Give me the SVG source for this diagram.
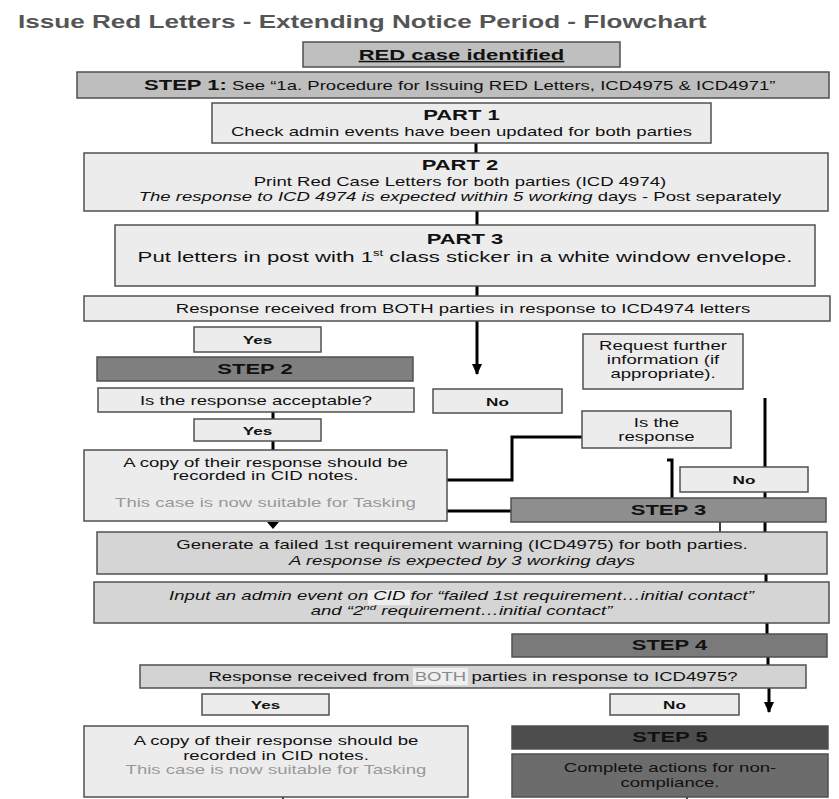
<svg xmlns="http://www.w3.org/2000/svg" width="839" height="799" viewBox="0 0 839 799">
<defs>
<style>
.bx{stroke:#505050;stroke-width:1.5}
.t{font-family:"Liberation Sans",Arial,sans-serif;text-anchor:middle;fill:#111}
.b{font-size:12.8px}
.h{font-size:15.2px;font-weight:bold}
.yn{font-size:11.8px;font-weight:bold}
.it{font-style:italic}
.c{stroke:#000;stroke-width:3;fill:none}
.thin{stroke:#000;stroke-width:1.5;fill:none}
.l1{fill:#ececec}
.l2{fill:#d5d5d5}
</style>
<marker id="ah" markerUnits="userSpaceOnUse" markerWidth="12" markerHeight="10" refX="10" refY="5" orient="auto"><path d="M0,0 L11,5 L0,10 z" fill="#000"/></marker>
</defs>
<rect width="839" height="799" fill="#fff"/>
<text id="title" class="t" transform="scale(1.45 1)" x="12.41" y="28" style="text-anchor:start;font-size:18px;font-weight:bold;fill:#555">Issue Red Letters - Extending Notice Period - Flowchart</text>

<g id="connectors">
<path class="c" d="M476,143V153M477,211V225M477,286V296"/>
<path class="c" d="M477,321V374" marker-end="url(#ah)"/>
<path class="c" d="M273,412V419M273,441V450"/>
<path class="c" d="M447,480H512V437H582M447,511H511"/>
<path class="c" d="M667,460H672V498"/>
<path class="c" d="M765,398V467M765,492V532M766,574V582M767,623V634M768,657V665"/>
<path class="c" d="M769,688V712" marker-end="url(#ah)"/>
<path class="thin" d="M720,522V532M283,797V799M687,797V799"/>
<polygon points="267,522 279,522 273,529" fill="#000"/>
</g>

<g id="red"><rect class="bx" x="303" y="42" width="317" height="25" fill="#bfbfbf"/>
<text class="t h" transform="scale(1.45 1)" x="318.28" y="60" text-decoration="underline">RED case identified</text></g>

<g id="step1"><rect class="bx" x="77" y="72" width="752" height="26" fill="#bebebe"/>
<text class="t b" transform="scale(1.45 1)" x="99.31" y="90" style="text-anchor:start"><tspan class="h">STEP 1:</tspan> See “1a. Procedure for Issuing RED Letters, ICD4975 &amp; ICD4971”</text></g>

<g id="part1"><rect class="bx l1" x="212" y="103" width="499" height="40"/>
<text class="t h" transform="scale(1.45 1)" x="318.28" y="120">PART 1</text>
<text class="t b" transform="scale(1.45 1)" x="318.28" y="136">Check admin events have been updated for both parties</text></g>

<g id="part2"><rect class="bx l1" x="84" y="153" width="744" height="58"/>
<text class="t h" transform="scale(1.45 1)" x="317.24" y="170">PART 2</text>
<text class="t b" transform="scale(1.45 1)" x="317.24" y="186">Print Red Case Letters for both parties (ICD 4974)</text>
<text class="t b" transform="scale(1.45 1)" x="317.24" y="201"><tspan class="it">The response to ICD 4974 is expected within 5 working</tspan> days - Post separately</text></g>

<g id="part3"><rect class="bx l1" x="115" y="225" width="700" height="61"/>
<text class="t h" transform="scale(1.45 1)" x="320.69" y="244">PART 3</text>
<text class="t" transform="scale(1.45 1)" x="320.69" y="262" style="font-size:15.3px">Put letters in post with 1<tspan dy="-6" style="font-size:9px">st</tspan><tspan dy="6"> class sticker in a white window envelope.</tspan></text></g>

<g id="resp1"><rect class="bx l1" x="84" y="296" width="746" height="25"/>
<text class="t b" transform="scale(1.45 1)" x="319.31" y="313">Response received from BOTH parties in response to ICD4974 letters</text></g>

<g id="yes1"><rect class="bx l1" x="194" y="327" width="127" height="25"/>
<text class="t yn" transform="scale(1.45 1)" x="177.59" y="344">Yes</text></g>

<g id="step2"><rect class="bx" x="97" y="357" width="316" height="24" fill="#7f7f7f"/>
<text class="t h" transform="scale(1.45 1)" x="175.86" y="374">STEP 2</text></g>

<g id="accept"><rect class="bx l1" x="98" y="388" width="316" height="24"/>
<text class="t b" transform="scale(1.45 1)" x="176.55" y="405">Is the response acceptable?</text></g>

<g id="yes2"><rect class="bx l1" x="194" y="419" width="127" height="22"/>
<text class="t yn" transform="scale(1.45 1)" x="177.59" y="435">Yes</text></g>

<g id="copy1"><rect class="bx l1" x="84" y="450" width="363" height="71"/>
<text class="t b" transform="scale(1.45 1)" x="183.10" y="467">A copy of their response should be</text>
<text class="t b" transform="scale(1.45 1)" x="183.10" y="480">recorded in CID notes.</text>
<text class="t b" transform="scale(1.45 1)" x="183.10" y="507" style="fill:#999">This case is now suitable for Tasking</text></g>

<g id="no1"><rect class="bx l1" x="433" y="389" width="129" height="24"/>
<text class="t yn" transform="scale(1.45 1)" x="343.10" y="406">No</text></g>

<g id="request"><rect class="bx l1" x="583" y="334" width="160" height="55"/>
<text class="t b" transform="scale(1.45 1)" x="457.24" y="350.5">Request further</text>
<text class="t b" transform="scale(1.45 1)" x="457.24" y="364.5">information (if</text>
<text class="t b" transform="scale(1.45 1)" x="457.24" y="378.5">appropriate).</text></g>

<g id="isresp"><rect class="bx l1" x="582" y="411" width="149" height="37"/>
<text class="t b" transform="scale(1.45 1)" x="452.76" y="427.5">Is the</text>
<text class="t b" transform="scale(1.45 1)" x="452.76" y="441">response</text></g>

<g id="no2"><rect class="bx l1" x="680" y="467" width="128" height="25"/>
<text class="t yn" transform="scale(1.45 1)" x="513.10" y="484">No</text></g>

<g id="step3"><rect class="bx" x="511" y="498" width="315" height="24" fill="#8e8e8e"/>
<text class="t h" transform="scale(1.45 1)" x="461.03" y="515">STEP 3</text></g>

<g id="generate"><rect class="bx l2" x="97" y="532" width="730" height="42"/>
<text class="t b" transform="scale(1.45 1)" x="318.62" y="549">Generate a failed 1st requirement warning (ICD4975) for both parties.</text>
<text class="t b it" transform="scale(1.45 1)" x="318.62" y="565">A response is expected by 3 working days</text></g>

<g id="input"><rect class="bx l2" x="94" y="582" width="735" height="41"/>
<rect x="368" y="590" width="42" height="15" fill="#eeeeee"/>
<text class="t b it" transform="scale(1.45 1)" x="318.28" y="600">Input an admin event on CID for “failed 1st requirement…initial contact”</text>
<text class="t b it" transform="scale(1.45 1)" x="318.28" y="615">and “2<tspan dy="-5" style="font-size:8px">nd</tspan><tspan dy="5"> requirement…initial contact”</tspan></text></g>

<g id="step4"><rect class="bx" x="512" y="634" width="315" height="23" fill="#7a7a7a"/>
<text class="t h" transform="scale(1.45 1)" x="461.72" y="650">STEP 4</text></g>

<g id="resp2"><rect class="bx" x="140" y="665" width="666" height="23" fill="#d3d3d3"/>
<rect x="413" y="668" width="55" height="17" fill="#efefef"/>
<text class="t b" transform="scale(1.45 1)" x="326.21" y="681">Response received from <tspan style="fill:#8a8a8a">BOTH</tspan> parties in response to ICD4975?</text></g>

<g id="yes3"><rect class="bx l1" x="202" y="694" width="127" height="21"/>
<text class="t yn" transform="scale(1.45 1)" x="183.10" y="709">Yes</text></g>

<g id="no3"><rect class="bx l1" x="610" y="694" width="129" height="21"/>
<text class="t yn" transform="scale(1.45 1)" x="465.17" y="709">No</text></g>

<g id="copy2"><rect class="bx l1" x="84" y="726" width="384" height="71"/>
<text class="t b" transform="scale(1.45 1)" x="190.34" y="745.5">A copy of their response should be</text>
<text class="t b" transform="scale(1.45 1)" x="190.34" y="760">recorded in CID notes.</text>
<text class="t b" transform="scale(1.45 1)" x="190.34" y="774.5" style="fill:#999">This case is now suitable for Tasking</text></g>

<g id="step5"><rect class="bx" x="512" y="726" width="316" height="23" fill="#4d4d4d"/>
<text class="t h" transform="scale(1.45 1)" x="462.07" y="742">STEP 5</text></g>

<g id="complete"><rect class="bx" x="512" y="754" width="316" height="43" fill="#6c6c6c"/>
<text class="t b" transform="scale(1.45 1)" x="462.07" y="772.5">Complete actions for non-</text>
<text class="t b" transform="scale(1.45 1)" x="462.07" y="787.5">compliance.</text></g>
</svg>
